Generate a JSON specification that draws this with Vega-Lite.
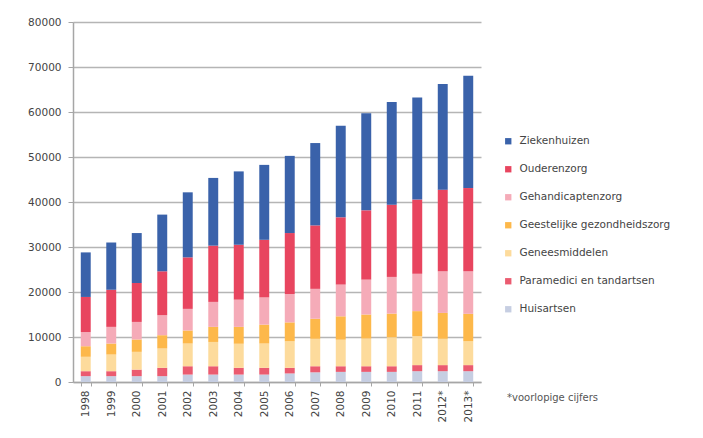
{
  "$schema": "https://vega.github.io/schema/vega-lite/v6.json",
  "width": 408,
  "height": 360,
  "autosize": {"type": "none"},
  "padding": {"left": 73, "top": 22, "right": 222, "bottom": 56},
  "background": "white",
  "datasets": {
    "volgorde": [
      {"post": "Huisartsen", "volgorde": 1},
      {"post": "Paramedici en tandartsen", "volgorde": 2},
      {"post": "Geneesmiddelen", "volgorde": 3},
      {"post": "Geestelijke gezondheidszorg", "volgorde": 4},
      {"post": "Gehandicaptenzorg", "volgorde": 5},
      {"post": "Ouderenzorg", "volgorde": 6},
      {"post": "Ziekenhuizen", "volgorde": 7}
    ]
  },
  "data": {
    "values": [
      {"jaar": "1998", "Huisartsen": 1300, "Paramedici en tandartsen": 1100, "Geneesmiddelen": 3200, "Geestelijke gezondheidszorg": 2350, "Gehandicaptenzorg": 3150, "Ouderenzorg": 7800, "Ziekenhuizen": 9900},
      {"jaar": "1999", "Huisartsen": 1300, "Paramedici en tandartsen": 1100, "Geneesmiddelen": 3700, "Geestelijke gezondheidszorg": 2450, "Gehandicaptenzorg": 3700, "Ouderenzorg": 8250, "Ziekenhuizen": 10500},
      {"jaar": "2000", "Huisartsen": 1300, "Paramedici en tandartsen": 1450, "Geneesmiddelen": 3950, "Geestelijke gezondheidszorg": 2750, "Gehandicaptenzorg": 3900, "Ouderenzorg": 8650, "Ziekenhuizen": 11100},
      {"jaar": "2001", "Huisartsen": 1300, "Paramedici en tandartsen": 1850, "Geneesmiddelen": 4300, "Geestelijke gezondheidszorg": 2950, "Gehandicaptenzorg": 4450, "Ouderenzorg": 9750, "Ziekenhuizen": 12600},
      {"jaar": "2002", "Huisartsen": 1650, "Paramedici en tandartsen": 1850, "Geneesmiddelen": 5050, "Geestelijke gezondheidszorg": 2900, "Gehandicaptenzorg": 4800, "Ouderenzorg": 11450, "Ziekenhuizen": 14450},
      {"jaar": "2003", "Huisartsen": 1650, "Paramedici en tandartsen": 1850, "Geneesmiddelen": 5400, "Geestelijke gezondheidszorg": 3350, "Gehandicaptenzorg": 5550, "Ouderenzorg": 12500, "Ziekenhuizen": 15050},
      {"jaar": "2004", "Huisartsen": 1650, "Paramedici en tandartsen": 1500, "Geneesmiddelen": 5350, "Geestelijke gezondheidszorg": 3750, "Gehandicaptenzorg": 6050, "Ouderenzorg": 12200, "Ziekenhuizen": 16300},
      {"jaar": "2005", "Huisartsen": 1650, "Paramedici en tandartsen": 1500, "Geneesmiddelen": 5400, "Geestelijke gezondheidszorg": 4200, "Gehandicaptenzorg": 6050, "Ouderenzorg": 12800, "Ziekenhuizen": 16650},
      {"jaar": "2006", "Huisartsen": 1900, "Paramedici en tandartsen": 1250, "Geneesmiddelen": 5900, "Geestelijke gezondheidszorg": 4200, "Gehandicaptenzorg": 6300, "Ouderenzorg": 13550, "Ziekenhuizen": 17150},
      {"jaar": "2007", "Huisartsen": 2150, "Paramedici en tandartsen": 1350, "Geneesmiddelen": 6100, "Geestelijke gezondheidszorg": 4450, "Gehandicaptenzorg": 6650, "Ouderenzorg": 14100, "Ziekenhuizen": 18300},
      {"jaar": "2008", "Huisartsen": 2250, "Paramedici en tandartsen": 1250, "Geneesmiddelen": 5900, "Geestelijke gezondheidszorg": 5200, "Gehandicaptenzorg": 7050, "Ouderenzorg": 14950, "Ziekenhuizen": 20350},
      {"jaar": "2009", "Huisartsen": 2250, "Paramedici en tandartsen": 1250, "Geneesmiddelen": 6150, "Geestelijke gezondheidszorg": 5350, "Gehandicaptenzorg": 7750, "Ouderenzorg": 15400, "Ziekenhuizen": 21600},
      {"jaar": "2010", "Huisartsen": 2250, "Paramedici en tandartsen": 1250, "Geneesmiddelen": 6450, "Geestelijke gezondheidszorg": 5250, "Gehandicaptenzorg": 8150, "Ouderenzorg": 16050, "Ziekenhuizen": 22800},
      {"jaar": "2011", "Huisartsen": 2400, "Paramedici en tandartsen": 1350, "Geneesmiddelen": 6450, "Geestelijke gezondheidszorg": 5550, "Gehandicaptenzorg": 8300, "Ouderenzorg": 16500, "Ziekenhuizen": 22700},
      {"jaar": "2012*", "Huisartsen": 2400, "Paramedici en tandartsen": 1350, "Geneesmiddelen": 5850, "Geestelijke gezondheidszorg": 5750, "Gehandicaptenzorg": 9250, "Ouderenzorg": 18150, "Ziekenhuizen": 23500},
      {"jaar": "2013*", "Huisartsen": 2400, "Paramedici en tandartsen": 1350, "Geneesmiddelen": 5300, "Geestelijke gezondheidszorg": 6100, "Gehandicaptenzorg": 9450, "Ouderenzorg": 18500, "Ziekenhuizen": 24950}
    ]
  },
  "transform": [
    {"fold": ["Huisartsen", "Paramedici en tandartsen", "Geneesmiddelen", "Geestelijke gezondheidszorg", "Gehandicaptenzorg", "Ouderenzorg", "Ziekenhuizen"], "as": ["post", "bedrag"]},
    {"lookup": "post", "from": {"data": {"name": "volgorde"}, "key": "post", "fields": ["volgorde"]}}
  ],
  "title": {
    "text": "*voorlopige cijfers",
    "orient": "bottom",
    "anchor": "end",
    "frame": "group",
    "dx": 117,
    "dy": -33,
    "font": "DejaVu Sans",
    "fontSize": 10,
    "fontWeight": "normal",
    "color": "#555555"
  },
  "mark": {"type": "bar"},
  "encoding": {
    "x": {
      "field": "jaar",
      "type": "nominal",
      "scale": {"paddingInner": 0.61, "paddingOuter": 0.305},
      "axis": {
        "title": null,
        "labelAngle": 270,
        "labelAlign": "right",
        "labelBaseline": "middle",
        "labelFont": "DejaVu Sans",
        "labelFontSize": 10.5,
        "labelColor": "#444444",
        "labelPadding": 4,
        "tickBand": "extent",
        "tickSize": 4,
        "tickColor": "#a6a6a6",
        "domainColor": "#a6a6a6",
        "domainWidth": 1.5,
        "grid": false
      }
    },
    "y": {
      "field": "bedrag",
      "type": "quantitative",
      "stack": "zero",
      "scale": {"domain": [0, 80000], "nice": false},
      "axis": {
        "title": null,
        "values": [0, 10000, 20000, 30000, 40000, 50000, 60000, 70000, 80000],
        "format": "d",
        "labelFont": "DejaVu Sans",
        "labelFontSize": 10.5,
        "labelColor": "#444444",
        "labelPadding": 7,
        "tickSize": 5,
        "tickColor": "#a6a6a6",
        "domainColor": "#a6a6a6",
        "domainWidth": 1.5,
        "grid": true,
        "gridColor": "#b5b5b5",
        "gridWidth": 1.5
      }
    },
    "order": {"field": "volgorde", "type": "quantitative", "sort": "ascending"},
    "color": {
      "field": "post",
      "type": "nominal",
      "sort": ["Ziekenhuizen", "Ouderenzorg", "Gehandicaptenzorg", "Geestelijke gezondheidszorg", "Geneesmiddelen", "Paramedici en tandartsen", "Huisartsen"],
      "scale": {
        "domain": ["Ziekenhuizen", "Ouderenzorg", "Gehandicaptenzorg", "Geestelijke gezondheidszorg", "Geneesmiddelen", "Paramedici en tandartsen", "Huisartsen"],
        "range": ["#3a62aa", "#e8455f", "#f5abb8", "#fdb84a", "#fddb9c", "#eb5b70", "#c6cee2"]
      },
      "legend": {
        "title": null,
        "orient": "none",
        "legendX": 430,
        "legendY": 114,
        "symbolType": "square",
        "symbolSize": 40,
        "symbolStrokeWidth": 0,
        "symbolOpacity": 1,
        "labelFont": "DejaVu Sans",
        "labelFontSize": 10.5,
        "labelColor": "#444444",
        "labelOffset": 6,
        "labelLimit": 300,
        "rowPadding": 17
      }
    }
  },
  "config": {
    "view": {"stroke": null}
  }
}
